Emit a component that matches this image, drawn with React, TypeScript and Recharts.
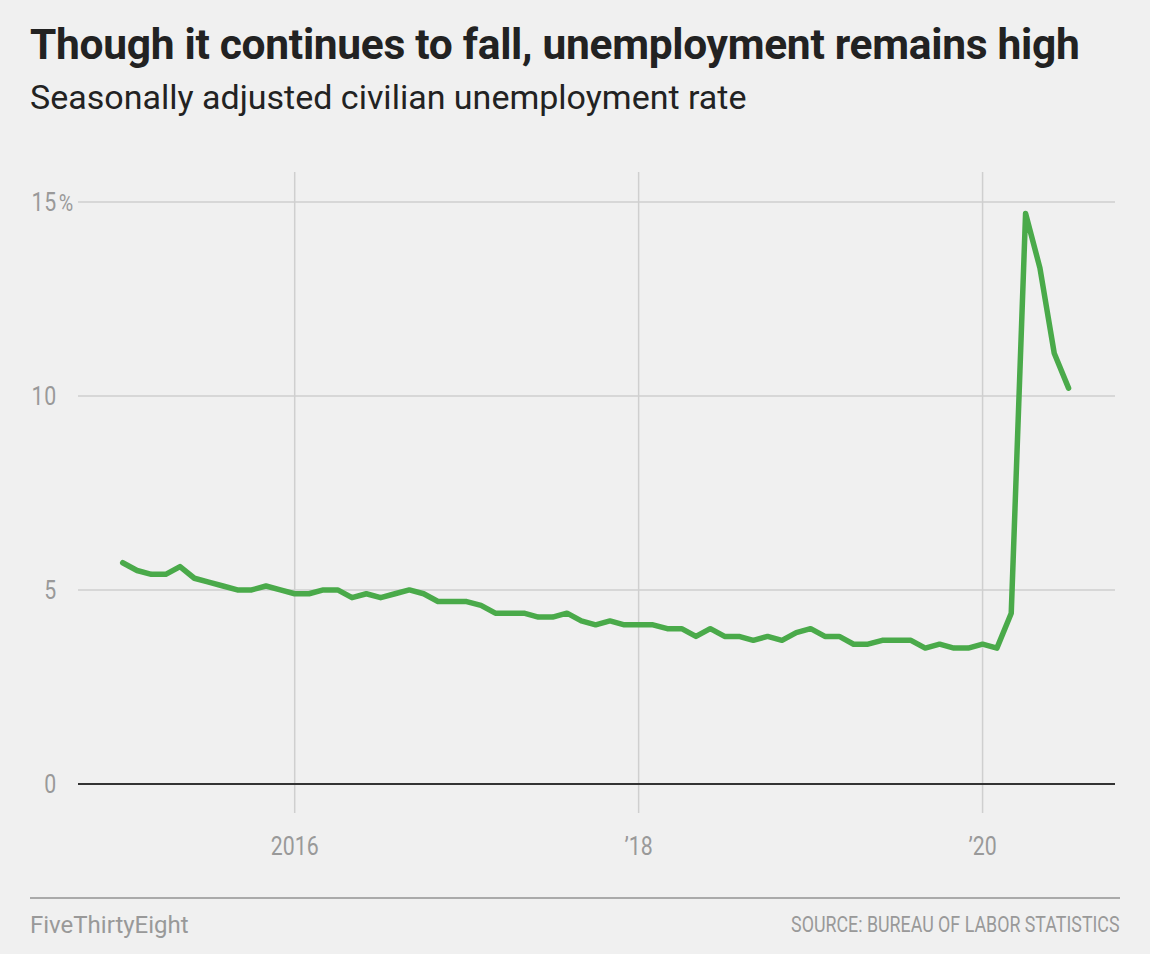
import React from 'react';
import { Line, LineChart, ReferenceLine, XAxis, YAxis } from 'recharts';

// Monthly rate, Jan 2015 – Jul 2020
const rate2015 = [5.7, 5.5, 5.4, 5.4, 5.6, 5.3, 5.2, 5.1, 5.0, 5.0, 5.1, 5.0];
const rate2016 = [4.9, 4.9, 5.0, 5.0, 4.8, 4.9, 4.8, 4.9, 5.0, 4.9, 4.7, 4.7];
const rate2017 = [4.7, 4.6, 4.4, 4.4, 4.4, 4.3, 4.3, 4.4, 4.2, 4.1, 4.2, 4.1];
const rate2018 = [4.1, 4.1, 4.0, 4.0, 3.8, 4.0, 3.8, 3.8, 3.7, 3.8, 3.7, 3.9];
const rate2019 = [4.0, 3.8, 3.8, 3.6, 3.6, 3.7, 3.7, 3.7, 3.5, 3.6, 3.5, 3.5];
const rate2020 = [3.6, 3.5, 4.4, 14.7, 13.3, 11.1, 10.2];

const startYear = 2015;
const xTicks = [2016, 2018, 2020];
const xTickLabels = ['2016', '\u201918', '\u201920'];
const yTicks = [0, 5, 10, 15];
const yGrid = [5, 10, 15];

const data = [rate2015, rate2016, rate2017, rate2018, rate2019, rate2020]
  .flat()
  .map((value, i) => ({ t: startYear + i / 12, value }));

const GREEN = '#4aaa4a';
const GRAY = '#999999';
const GRID = '#cfcfcf';

function YTick({ y, payload }: any) {
  const v = payload.value;
  return (
    <g transform={`translate(57,${y}) scale(0.82,1)`}>
      <text x={0} y={0} dy={9} textAnchor="end" fill={GRAY} fontSize={26} letterSpacing={1}>
        {v}
      </text>
      {v === 15 && (
        <text x={2} y={0} dy={9} textAnchor="start" fill={GRAY} fontSize={24}>
          %
        </text>
      )}
    </g>
  );
}

function XTick({ x, payload }: any) {
  const i = xTicks.indexOf(payload.value);
  return (
    <g transform={`translate(${x},855) scale(0.82,1)`}>
      <text x={0} y={0} textAnchor="middle" fill={GRAY} fontSize={26}>
        {xTickLabels[i]}
      </text>
    </g>
  );
}

export default function App() {
  return (
    <div
      style={{
        position: 'absolute',
        left: 0,
        top: 0,
        width: 1150,
        height: 954,
        background: '#f0f0f0',
        fontFamily: 'Roboto, "Noto Sans", sans-serif',
        overflow: 'hidden',
      }}
    >
      <div
        style={{
          position: 'absolute',
          left: 30,
          top: 24,
          fontSize: 42.5,
          lineHeight: 1,
          fontWeight: 700,
          color: '#222',
          letterSpacing: -0.3,
          whiteSpace: 'nowrap',
        }}
      >
        Though it continues to fall, unemployment remains high
      </div>
      <div
        style={{
          position: 'absolute',
          left: 30,
          top: 80,
          fontSize: 34,
          lineHeight: 1,
          color: '#222',
          whiteSpace: 'nowrap',
        }}
      >
        Seasonally adjusted civilian unemployment rate
      </div>

      <div style={{ position: 'absolute', left: 0, top: 0 }}>
        <LineChart
          width={1150}
          height={954}
          data={data}
          margin={{ top: 172, right: 35, bottom: 101, left: 0 }}
        >
          <XAxis
            dataKey="t"
            type="number"
            domain={[2014.74, 2020.77]}
            ticks={xTicks}
            axisLine={false}
            tickLine={false}
            height={40}
            tick={<XTick />}
            interval={0}
          />
          <YAxis
            type="number"
            domain={[-0.75, 15.77]}
            ticks={yTicks}
            axisLine={false}
            tickLine={false}
            width={78}
            tick={<YTick />}
            interval={0}
          />
          {yGrid.map((v) => (
            <ReferenceLine key={`y${v}`} y={v} stroke={GRID} strokeWidth={1.5} />
          ))}
          {xTicks.map((v) => (
            <ReferenceLine key={`x${v}`} x={v} stroke={GRID} strokeWidth={1.5} />
          ))}
          <ReferenceLine y={0} stroke="#333333" strokeWidth={2} />
          <Line
            type="linear"
            dataKey="value"
            stroke={GREEN}
            strokeWidth={5.5}
            dot={false}
            strokeLinejoin="round"
            strokeLinecap="round"
            isAnimationActive={false}
          />
        </LineChart>
      </div>

      <div
        style={{
          position: 'absolute',
          left: 30,
          top: 897,
          width: 1090,
          height: 2,
          background: '#aaaaaa',
        }}
      />
      <div
        style={{
          position: 'absolute',
          left: 30,
          top: 913,
          fontSize: 24,
          lineHeight: 1,
          color: GRAY,
        }}
      >
        FiveThirtyEight
      </div>
      <div
        style={{
          position: 'absolute',
          right: 30,
          top: 914,
          fontSize: 22,
          lineHeight: 1,
          color: GRAY,
          whiteSpace: 'nowrap',
          transform: 'scaleX(0.81)',
          transformOrigin: 'right center',
        }}
      >
        SOURCE: BUREAU OF LABOR STATISTICS
      </div>
    </div>
  );
}
